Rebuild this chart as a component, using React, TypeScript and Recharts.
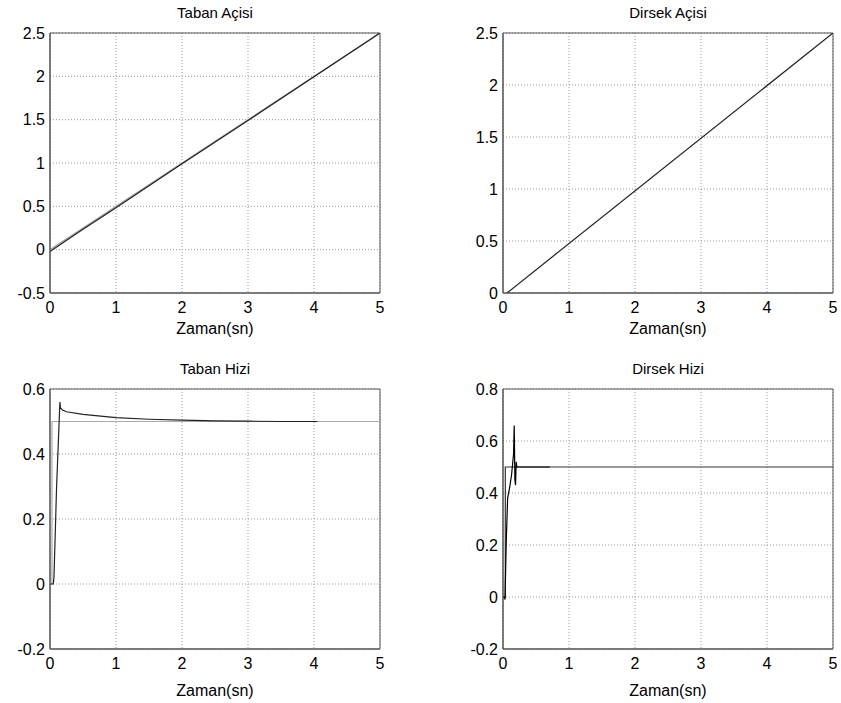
import { LineChart, Line, XAxis, YAxis, CartesianGrid, ReferenceArea, Label } from 'recharts'

// zaman ekseni (sn)
const timeTicks = [0, 1, 2, 3, 4, 5]

// Taban Açisi
const tabanAciRefT = [0, 5]
const tabanAciRefV = [0, 2.5]
const tabanAciT = [0, 0.1, 0.5, 1, 2, 3, 4, 5]
const tabanAciV = [-0.02, 0.03, 0.235, 0.485, 0.99, 1.49, 1.995, 2.5]
const tabanAciTicks = [-0.5, 0, 0.5, 1, 1.5, 2, 2.5]

// Dirsek Açisi
const dirsekAciT = [0.06, 5]
const dirsekAciV = [0, 2.5]
const dirsekAciTicks = [0, 0.5, 1, 1.5, 2, 2.5]

// Taban Hizi
const tabanHizRefT = [0, 0.03, 0.03, 5]
const tabanHizRefV = [0, 0, 0.5, 0.5]
const tabanHizT = [0, 0.05, 0.06, 0.1, 0.15, 0.16, 0.17, 0.19, 0.25, 0.5, 1, 1.5, 2, 2.5, 3, 3.5, 4.05]
const tabanHizV = [0, 0, 0.02, 0.3, 0.56, 0.54, 0.54, 0.535, 0.53, 0.522, 0.512, 0.507, 0.504, 0.502, 0.501, 0.5, 0.5]
const tabanHizTicks = [-0.2, 0, 0.2, 0.4, 0.6]

// Dirsek Hizi
const dirsekHizRefT = [0, 0.035, 0.035, 5]
const dirsekHizRefV = [0, 0, 0.5, 0.5]
const dirsekHizT = [0, 0.02, 0.03, 0.05, 0.07, 0.1, 0.13, 0.16, 0.17, 0.175, 0.18, 0.19, 0.2, 0.21, 0.23, 0.71]
const dirsekHizV = [0, 0, -0.01, 0.22, 0.38, 0.42, 0.47, 0.55, 0.66, 0.56, 0.45, 0.43, 0.52, 0.5, 0.5, 0.5]
const dirsekHizTicks = [-0.2, 0, 0.2, 0.4, 0.6, 0.8]

const FONT = '"Liberation Sans", Arial, sans-serif'

const toPoints = (ts: number[], vs: number[]) => ts.map((t, i) => ({ t, v: vs[i] }))

interface Series {
  name: string
  t: number[]
  v: number[]
  color: string
}

interface PanelProps {
  left: number
  top: number
  width: number
  title: string
  series: Series[]
  yTicks: number[]
  labelOffset: number
}

function Panel({ left, top, width, title, series, yTicks, labelOffset }: PanelProps) {
  const yMin = yTicks[0]
  const yMax = yTicks[yTicks.length - 1]
  const plotW = 330
  return (
    <div style={{ position: 'absolute', left, top, width, height: 356 }}>
      <div
        style={{
          position: 'absolute',
          left: 50,
          width: plotW,
          top: 5,
          textAlign: 'center',
          fontFamily: FONT,
          fontSize: 15,
          lineHeight: '15px',
          color: '#000',
        }}
      >
        {title}
      </div>
      <LineChart
        width={width}
        height={356}
        margin={{ top: 33, right: width - 50 - plotW, bottom: 0, left: 0 }}
      >
        <CartesianGrid stroke="#999" strokeDasharray="1 2" />
        <XAxis
          type="number"
          dataKey="t"
          domain={[0, 5]}
          ticks={timeTicks}
          allowDataOverflow
          height={63}
          tickLine={false}
          tickSize={0}
          tickMargin={9}
          stroke="#555"
          tick={{ fill: '#000', fontSize: 16, fontFamily: FONT }}
        >
          <Label
            value="Zaman(sn)"
            position="insideTop"
            offset={labelOffset}
            style={{ fill: '#000', fontSize: 16, fontFamily: FONT }}
          />
        </XAxis>
        <YAxis
          type="number"
          domain={[yMin, yMax]}
          ticks={yTicks}
          allowDataOverflow
          width={50}
          tickLine={false}
          tickSize={0}
          tickMargin={5}
          stroke="#555"
          tick={{ fill: '#000', fontSize: 16, fontFamily: FONT }}
        />
        <ReferenceArea x1={0} x2={5} y1={yMin} y2={yMax} fill="none" stroke="#555" strokeWidth={1} />
        {series.map((s) => (
          <Line
            key={s.name}
            data={toPoints(s.t, s.v)}
            dataKey="v"
            type="linear"
            stroke={s.color}
            strokeWidth={1.2}
            dot={false}
            activeDot={false}
            isAnimationActive={false}
          />
        ))}
      </LineChart>
    </div>
  )
}

export default function App() {
  return (
    <div
      style={{
        position: 'absolute',
        left: 0,
        top: 0,
        width: 841,
        height: 703,
        background: '#fff',
        overflow: 'hidden',
      }}
    >
      <Panel
        left={0}
        top={0}
        width={420}
        title="Taban Açisi"
        yTicks={tabanAciTicks}
        labelOffset={30}
        series={[
          { name: 'ref', t: tabanAciRefT, v: tabanAciRefV, color: '#999' },
          { name: 'act', t: tabanAciT, v: tabanAciV, color: '#222' },
        ]}
      />
      <Panel
        left={453}
        top={0}
        width={388}
        title="Dirsek Açisi"
        yTicks={dirsekAciTicks}
        labelOffset={30}
        series={[{ name: 'act', t: dirsekAciT, v: dirsekAciV, color: '#222' }]}
      />
      <Panel
        left={0}
        top={356}
        width={420}
        title="Taban Hizi"
        yTicks={tabanHizTicks}
        labelOffset={36}
        series={[
          { name: 'ref', t: tabanHizRefT, v: tabanHizRefV, color: '#aaa' },
          { name: 'act', t: tabanHizT, v: tabanHizV, color: '#222' },
        ]}
      />
      <Panel
        left={453}
        top={356}
        width={388}
        title="Dirsek Hizi"
        yTicks={dirsekHizTicks}
        labelOffset={36}
        series={[
          { name: 'ref', t: dirsekHizRefT, v: dirsekHizRefV, color: '#333' },
          { name: 'act', t: dirsekHizT, v: dirsekHizV, color: '#000' },
        ]}
      />
    </div>
  )
}
